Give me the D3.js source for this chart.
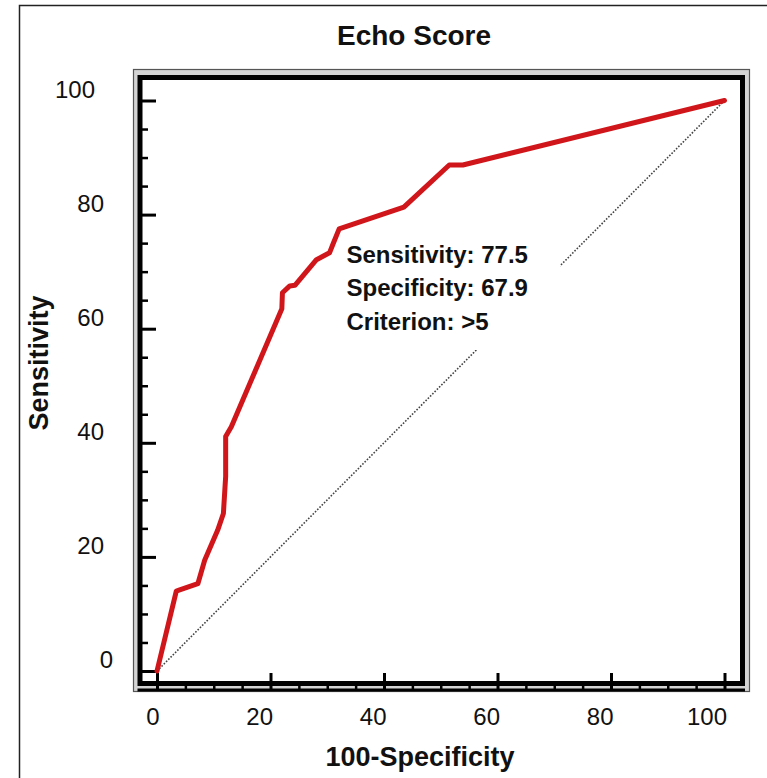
<!DOCTYPE html>
<html>
<head>
<meta charset="utf-8">
<script src="https://cdn.jsdelivr.net/npm/d3@7"></script>
<style>
  html, body { margin: 0; padding: 0; background: #fff; }
  svg { display: block; }
  text { font-family: "Liberation Sans", Arial, sans-serif; fill: #111; }
</style>
</head>
<body>
<svg id="chart" width="767" height="778"></svg>
<script>
// ---- data ----
const fpr = [0, 3.4, 4.0, 7.2, 8.4, 10.7, 11.7, 12.1, 12.1, 13.1, 22.0, 22.1, 23.4, 24.3, 28.1, 30.4, 31.0, 32.1, 43.5, 51.5, 53.9, 100];
const tpr = [0, 14.0, 14.2, 15.3, 19.4, 24.7, 27.6, 34.1, 41.1, 42.8, 63.5, 66.3, 67.5, 67.6, 72.1, 73.3, 74.8, 77.5, 81.3, 88.7, 88.7, 100];
const majorTicks = [0, 20, 40, 60, 80, 100];
const minorTicks = [5, 10, 15, 25, 30, 35, 45, 50, 55, 65, 70, 75, 85, 90, 95];
const titleText = "Echo Score";
const xTitle = "100-Specificity";
const yTitle = "Sensitivity";
const annotation = ["Sensitivity: 77.5", "Specificity: 67.9", "Criterion: >5"];

const svg = d3.select("#chart");
const x = d3.scaleLinear().domain([0, 100]).range([157, 724.5]);
const y = d3.scaleLinear().domain([0, 100]).range([671, 100.5]);

// outer figure border
svg.append("rect").attr("x", 19.5).attr("y", 5.5).attr("width", 800).attr("height", 800)
  .attr("fill", "#fff").attr("stroke", "#222").attr("stroke-width", 1.5);

// plot frame: outer thin line with light band, inner thick black
svg.append("rect").attr("x", 133.5).attr("y", 69.5).attr("width", 749.5 - 133.5).attr("height", 691.5 - 69.5)
  .attr("fill", "#d4d4d4").attr("stroke", "#555").attr("stroke-width", 1.2);
svg.append("rect").attr("x", 140).attr("y", 77.5).attr("width", 742.5 - 140).attr("height", 683.5 - 77.5)
  .attr("fill", "#fff").attr("stroke", "#000").attr("stroke-width", 5);
svg.append("line").attr("x1", 137.5).attr("x2", 745).attr("y1", 690).attr("y2", 690)
  .attr("stroke", "#000").attr("stroke-width", 3);

// diagonal reference
svg.append("line")
  .attr("x1", x(0)).attr("y1", y(0)).attr("x2", x(100)).attr("y2", y(100))
  .attr("stroke", "#444").attr("stroke-width", 1.6).attr("stroke-dasharray", "1.6,1.6");

// annotation background box (hides part of the diagonal)
svg.append("rect").attr("x", 340).attr("y", 234).attr("width", 220).attr("height", 116).attr("fill", "#fff");

// ---- y axis (ticks inward, labels left) ----
const yMaj = svg.append("g").attr("transform", "translate(140,0)")
  .call(d3.axisLeft(y).tickValues(majorTicks).tickSizeInner(-16).tickSizeOuter(0).tickPadding(0));
yMaj.select(".domain").remove();
yMaj.selectAll(".tick line").attr("stroke", "#000").attr("stroke-width", 3);
yMaj.selectAll(".tick text")
  .attr("x", d => -18 - 9 * String(d).length)
  .attr("y", -11.5).attr("dy", "0.35em")
  .attr("text-anchor", "end")
  .style("font-size", "24px").style("fill", "#111");

const yMin = svg.append("g").attr("transform", "translate(140,0)")
  .call(d3.axisLeft(y).tickValues(minorTicks).tickSizeInner(-8).tickSizeOuter(0).tickFormat(""));
yMin.select(".domain").remove();
yMin.selectAll(".tick line").attr("stroke", "#000").attr("stroke-width", 2.5);

// ---- x axis (ticks upward, labels below) ----
const xMaj = svg.append("g").attr("transform", "translate(0,690)")
  .call(d3.axisBottom(x).tickValues(majorTicks).tickSizeInner(-17).tickSizeOuter(0).tickPadding(0));
xMaj.select(".domain").remove();
xMaj.selectAll(".tick line").attr("stroke", "#000").attr("stroke-width", 3);
xMaj.selectAll(".tick text")
  .attr("x", 2).attr("y", 35).attr("dy", 0)
  .attr("text-anchor", "end")
  .style("font-size", "24px").style("fill", "#111");

const xMin = svg.append("g").attr("transform", "translate(0,690)")
  .call(d3.axisBottom(x).tickValues(minorTicks).tickSizeInner(-7).tickSizeOuter(0).tickFormat(""));
xMin.select(".domain").remove();
xMin.selectAll(".tick line").attr("stroke", "#000").attr("stroke-width", 2.5);

// ---- ROC curve ----
const pts = fpr.map((f, i) => [f, tpr[i]]);
svg.append("path").datum(pts)
  .attr("d", d3.line().x(d => x(d[0])).y(d => y(d[1])))
  .attr("fill", "none").attr("stroke", "#d0161a").attr("stroke-width", 5)
  .attr("stroke-linejoin", "round").attr("stroke-linecap", "round");

// ---- annotation text ----
svg.append("g").selectAll("text").data(annotation).join("text")
  .attr("x", 346.5).attr("y", (d, i) => 262.5 + i * 33.7)
  .style("font-size", "24px").style("font-weight", "bold")
  .text(d => d);

// ---- titles ----
svg.append("text").attr("x", 414).attr("y", 45).attr("text-anchor", "middle")
  .style("font-size", "28px").style("font-weight", "bold").text(titleText);
svg.append("text").attr("x", 420).attr("y", 766).attr("text-anchor", "middle")
  .style("font-size", "27px").style("font-weight", "bold").text(xTitle);
svg.append("text").attr("transform", "translate(48,363) rotate(-90)").attr("text-anchor", "middle")
  .style("font-size", "27px").style("font-weight", "bold").text(yTitle);
</script>
</body>
</html>
